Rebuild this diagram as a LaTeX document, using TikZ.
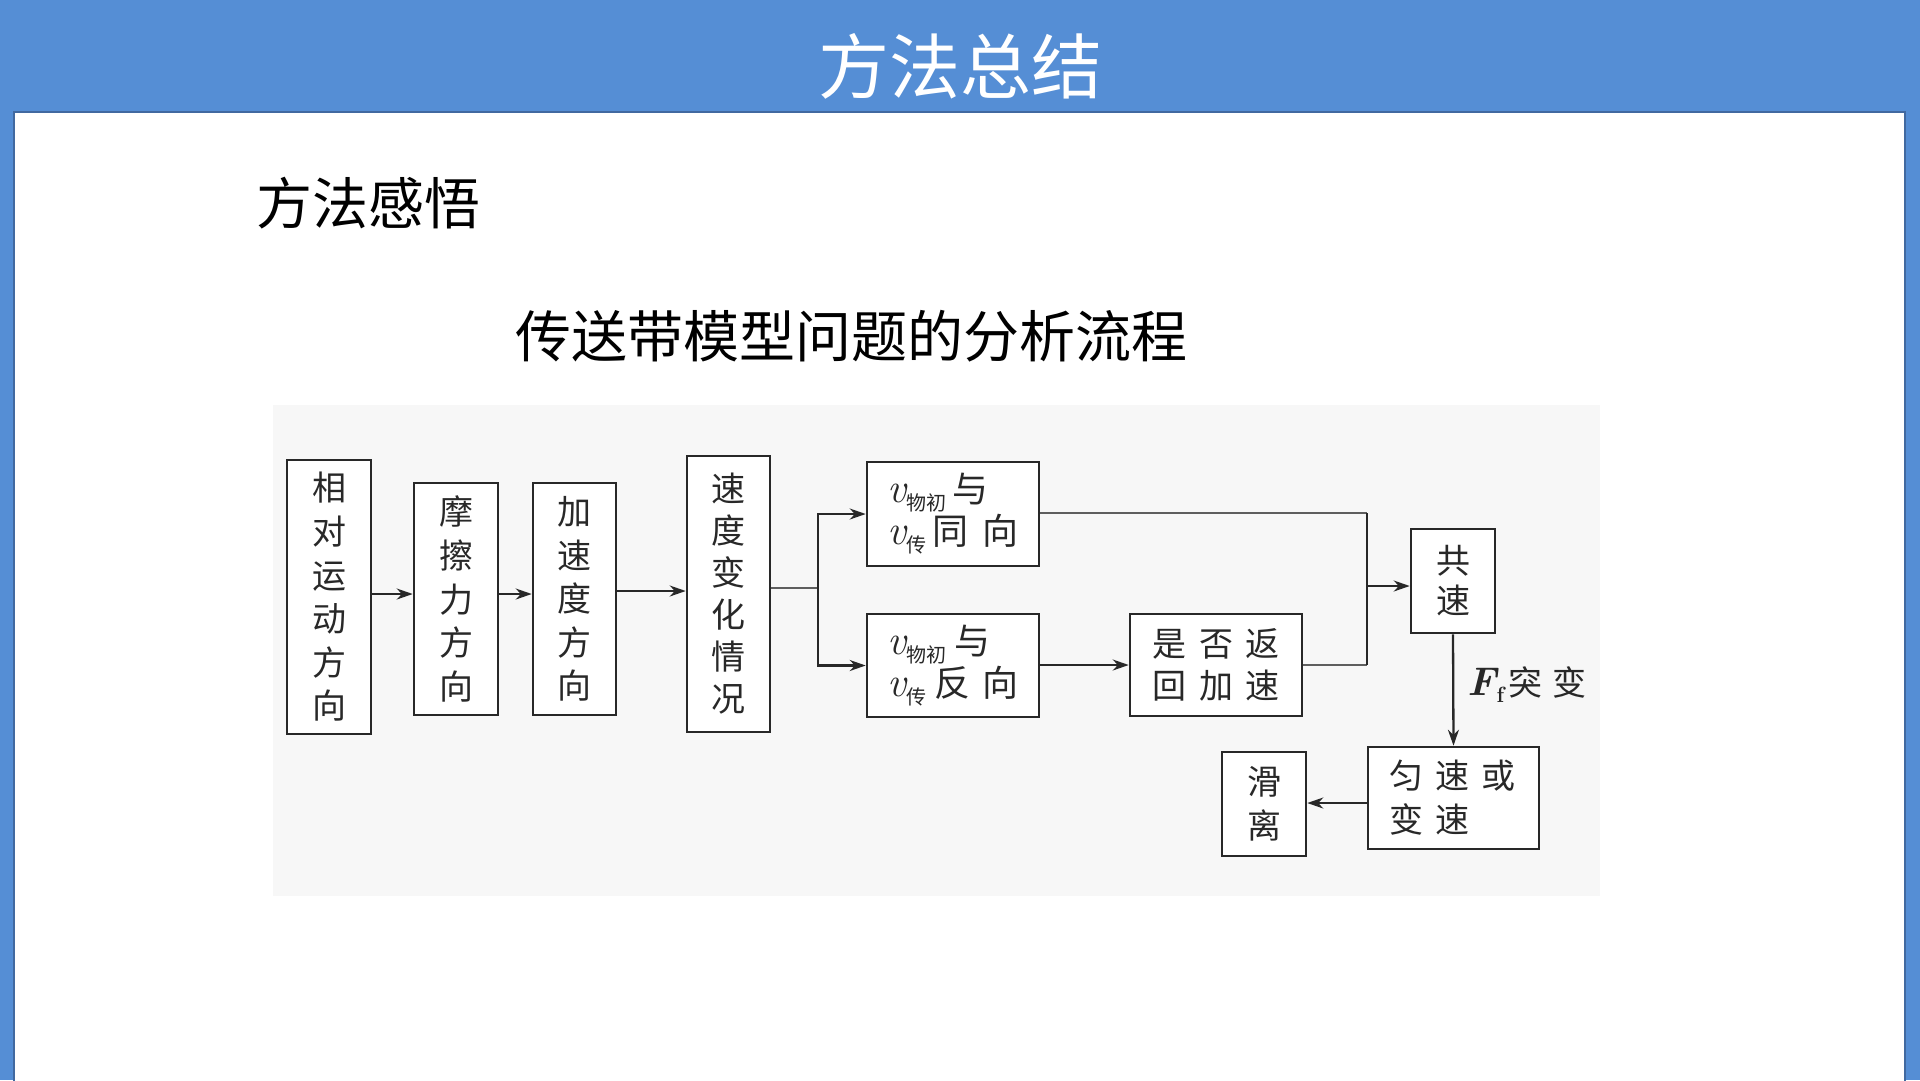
\documentclass[tikz,border=0pt]{standalone}
\usepackage{fontspec}
\newfontfamily\cjk{Noto Sans CJK SC}
\usetikzlibrary{arrows.meta,calc}
\definecolor{hdrblue}{RGB}{85,142,213}
\definecolor{hdrline}{RGB}{65,105,160}
\definecolor{figbg}{RGB}{247,247,247}
\definecolor{ink}{RGB}{40,40,40}
\newcommand{\myv}{{\rmfamily\itshape\fontsize{42}{42}\selectfont v}}
\newcommand{\mysub}[1]{\raisebox{-8pt}{\fontsize{20}{20}\selectfont #1}}
\tikzset{
  fbox/.style={draw=ink, line width=2.6pt, fill=white, inner sep=0pt, align=center,
    font=\fontsize{34}{43.6}\selectfont\cjk, text=ink},
  arr/.style={draw=ink, line width=2.3pt, -{Stealth[length=16pt,width=11pt]}},
  thinl/.style={draw=ink!75, line width=1.3pt},
  midl/.style={draw=ink, line width=2pt},
}
\begin{document}
\begin{tikzpicture}[x=1pt,y=-1pt]
\useasboundingbox (0,0) rectangle (1920,1080);
\fill[hdrblue] (0,0) rectangle (1920,1080);
\draw[hdrline, line width=2pt, fill=white] (14,112) rectangle (1905,1082);
\fill[figbg] (273,405) rectangle (1600,896);
\node[text=white, font=\fontsize{71}{80}\selectfont\cjk] (title) at (960,66) {方法总结};
\node[anchor=west, font=\fontsize{56}{64}\selectfont\cjk] (sub1) at (253,203) {方法感悟};
\node[anchor=west, font=\fontsize{56}{64}\selectfont\cjk] (sub2) at (512,336) {传送带模型问题的分析流程};

\node[fbox, minimum width=84pt, minimum height=274pt] (b1) at (329,597) {相\\对\\运\\动\\方\\向};
\node[fbox, minimum width=84pt, minimum height=232pt] (b2) at (456,599) {摩\\擦\\力\\方\\向};
\node[fbox, minimum width=83pt, minimum height=232pt] (b3) at (574.5,599) {加\\速\\度\\方\\向};
\node[fbox, minimum width=83pt, minimum height=276pt, font=\fontsize{34}{42}\selectfont\cjk] (b4) at (728.5,594) {速\\度\\变\\化\\情\\况};
\node[fbox, minimum width=172pt, minimum height=104pt, align=left, font=\fontsize{36}{42}\selectfont\cjk] (b5) at (953,514)
  {\myv\mysub{物初}\hspace{6pt}与\\\myv\mysub{传}\hspace{6pt}同\hspace{14pt}向};
\node[fbox, minimum width=172pt, minimum height=103pt, align=left, font=\fontsize{36}{42}\selectfont\cjk] (b6) at (953,665.5)
  {\myv\mysub{物初}\hspace{8pt}与\\\myv\mysub{传}\hspace{8pt}反\hspace{12pt}向};
\node[fbox, minimum width=172pt, minimum height=102pt, font=\fontsize{34}{42}\selectfont\cjk] (b7) at (1216,665)
  {是\hspace{13pt}否\hspace{13pt}返\\回\hspace{13pt}加\hspace{13pt}速};
\node[fbox, minimum width=84pt, minimum height=104pt, font=\fontsize{34}{40}\selectfont\cjk] (b8) at (1453,581) {共\\速};
\node[fbox, minimum width=171pt, minimum height=102pt, align=left, font=\fontsize{34}{44}\selectfont\cjk] (b9) at (1453.5,798)
  {匀\hspace{12pt}速\hspace{12pt}或\\变\hspace{12pt}速\hspace{48pt}\mbox{}};
\node[fbox, minimum width=84pt, minimum height=104pt, font=\fontsize{34}{44}\selectfont\cjk] (b10) at (1264,804) {滑\\离};

\coordinate (r1) at (0,594);
\coordinate (r3) at (0,591);
\coordinate (br) at (818,588);
\coordinate (mg) at (1367,586);
\coordinate (r9) at (0,803);
\coordinate (r5) at (0,513);

\draw[arr] (b1.east |- r1) -- (b2.west |- r1);
\draw[arr] (b2.east |- r1) -- (b3.west |- r1);
\draw[arr] (b3.east |- r3) -- (b4.west |- r3);
\draw[thinl] (b4.east |- br) -- (br);
\draw[arr] (br) |- (b5.west);
\draw[arr] (br) |- (b6.west);
\draw[arr] (b6.east |- b7.west) -- (b7.west);
\draw[thinl] (b5.east |- r5) -- (mg |- r5);
\draw[thinl] (b7.east) -- (mg |- b7.east);
\draw[midl] (mg |- r5) -- (mg |- b7.east);
\draw[arr] (mg) -- (mg -| b8.west);
\draw[arr] (b8.south) -- (b9.north);
\draw[arr] (b9.west |- r9) -- (b10.east |- r9);
\node[anchor=west, text=ink, font=\fontsize{34}{40}\selectfont\cjk] (lab) at (1464,685)
  {{\rmfamily\bfseries\itshape\fontsize{40}{40}\selectfont F}\raisebox{-7pt}{\rmfamily\bfseries\fontsize{22}{22}\selectfont f}\hspace{4pt}突\hspace{10pt}变};
\end{tikzpicture}
\end{document}
